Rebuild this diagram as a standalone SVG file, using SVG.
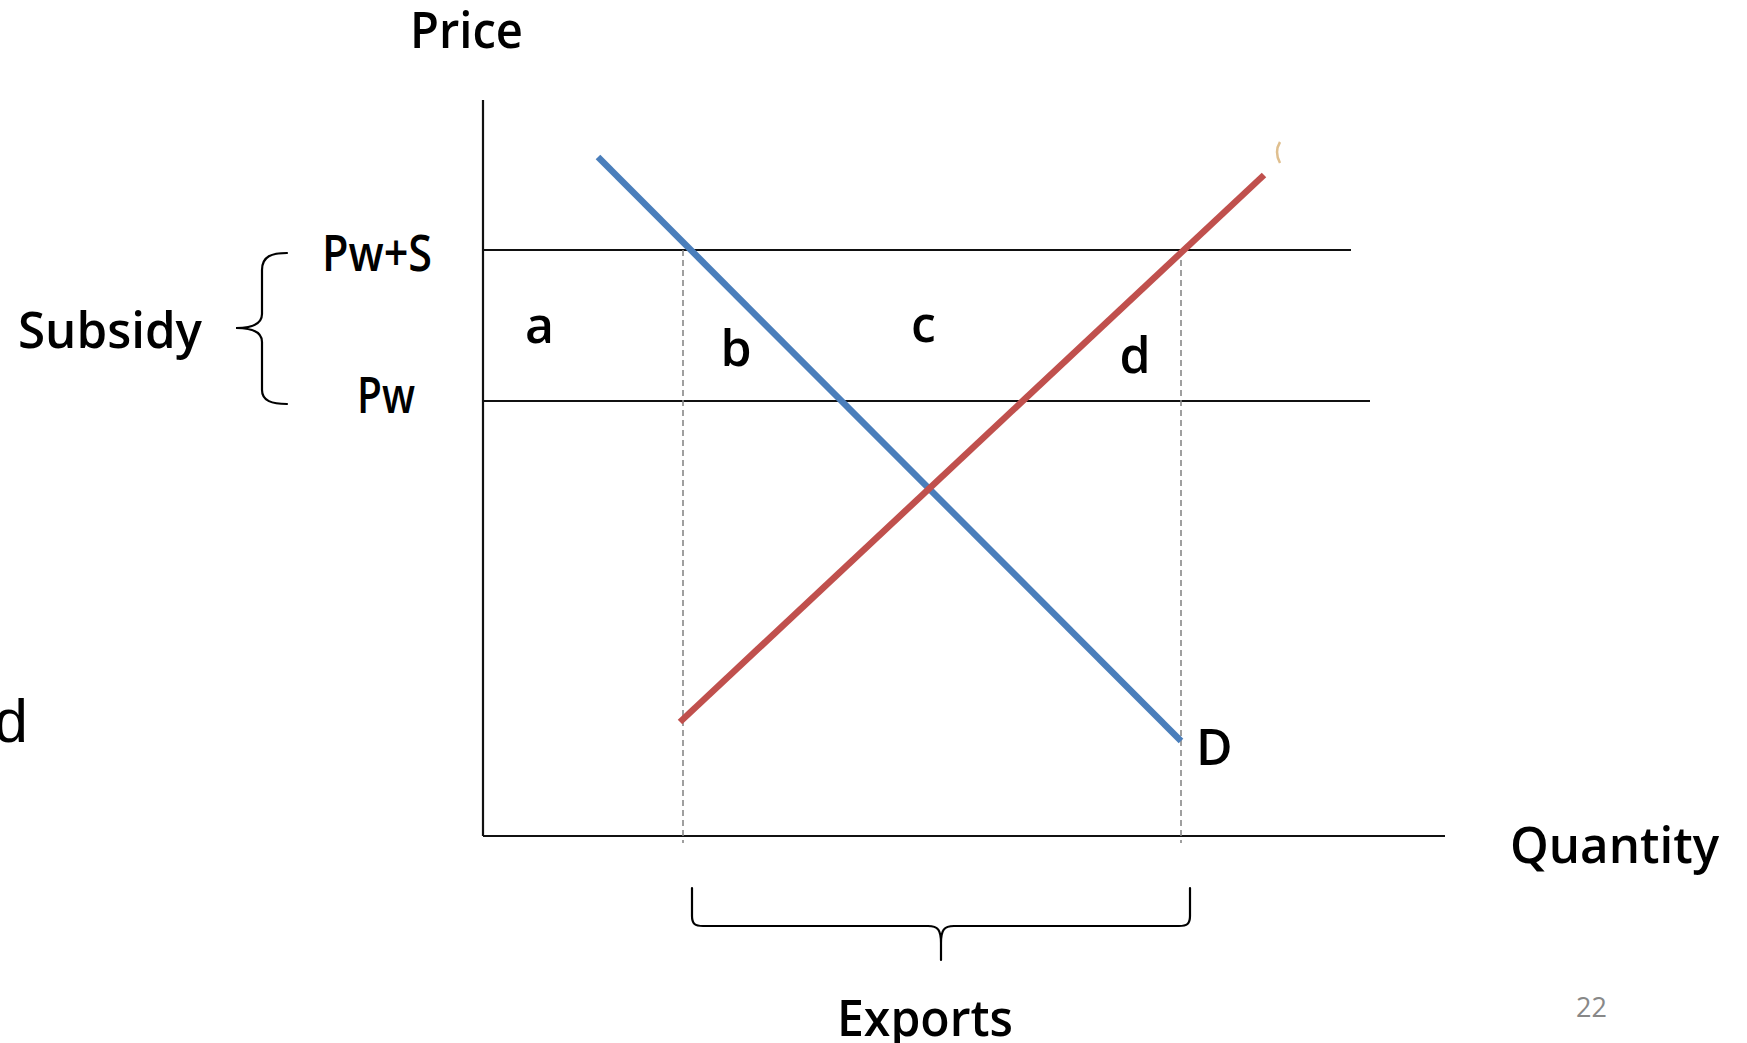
<svg xmlns="http://www.w3.org/2000/svg" width="1747" height="1043" viewBox="0 0 1747 1043">
  <style>
    .lbl { font-family: "Open Sans", "Liberation Sans", sans-serif; font-size: 50px; font-weight: 600; fill: #000; }
    .axis { stroke: #111; stroke-width: 2.2; fill: none; }
    .price { stroke: #111; stroke-width: 2; fill: none; }
    .dash { stroke: #888; stroke-width: 1.6; stroke-dasharray: 6 4; fill: none; }
    .brace { stroke: #000; stroke-width: 2.2; fill: none; stroke-linecap: round; }
    .demand { stroke: #4a7ebb; stroke-width: 6.5; fill: none; }
    .supply { stroke: #c0504d; stroke-width: 6.5; fill: none; }
  </style>
  <rect width="1747" height="1043" fill="#fff"/>

  <g id="connectors">
    <line id="y-axis" class="axis" x1="483" y1="100" x2="483" y2="836"/>
    <line id="x-axis" class="axis" x1="483" y1="836" x2="1445" y2="836"/>
    <line id="pws-line" class="price" x1="483" y1="250" x2="1351" y2="250"/>
    <line id="pw-line" class="price" x1="483" y1="401" x2="1370" y2="401"/>
    <line id="dash-left" class="dash" x1="683" y1="250" x2="683" y2="843"/>
    <line id="dash-right" class="dash" x1="1181" y1="250" x2="1181" y2="843"/>
    <line id="demand" class="demand" x1="598" y1="157" x2="1181" y2="741"/>
    <line id="supply" class="supply" x1="680" y1="722" x2="1264" y2="175"/>
    <path id="fragment" d="M1280,142 Q1274,152 1280,163" stroke="#dfbf8f" stroke-width="2.5" fill="none"/>
    <path id="subsidy-brace" class="brace" d="M287,253 C272,253 262,256 262,270 L262,314 C262,324 252,328 236,328 C252,328 262,332 262,342 L262,390 C262,401 272,404 287,404"/>
    <path id="exports-brace" class="brace" d="M692,888 L692,916 C692,924 695,926 703,926 L928,926 C938,926 941,930 941,943 L941,960 M941,943 C941,930 944,926 954,926 L1179,926 C1187,926 1190,924 1190,916 L1190,888"/>
  </g>

  <g id="node-price"><text class="lbl" x="410" y="48" textLength="113" lengthAdjust="spacingAndGlyphs">Price</text></g>
  <g id="node-quantity"><text class="lbl" x="1510" y="863" font-size="52" textLength="209" lengthAdjust="spacingAndGlyphs">Quantity</text></g>
  <g id="node-subsidy"><text class="lbl" x="18" y="348" textLength="184" lengthAdjust="spacingAndGlyphs">Subsidy</text></g>
  <g id="node-pws"><text class="lbl" x="322" y="271" textLength="110" lengthAdjust="spacingAndGlyphs">Pw+S</text></g>
  <g id="node-pw"><text class="lbl" x="357" y="413" textLength="58" lengthAdjust="spacingAndGlyphs">Pw</text></g>
  <g id="node-a"><text class="lbl" x="539.5" y="343" text-anchor="middle">a</text></g>
  <g id="node-b"><text class="lbl" x="736" y="366" text-anchor="middle">b</text></g>
  <g id="node-c"><text class="lbl" x="923.5" y="342" text-anchor="middle">c</text></g>
  <g id="node-d"><text class="lbl" x="1135" y="373" text-anchor="middle">d</text></g>
  <g id="node-D"><text class="lbl" x="1196" y="765">D</text></g>
  <g id="node-exports"><text class="lbl" x="837" y="1036" textLength="176" lengthAdjust="spacingAndGlyphs">Exports</text></g>
  <g id="node-page"><text x="1576" y="1017" font-family="Open Sans, Liberation Sans, sans-serif" font-size="27" fill="#888">22</text></g>
  <g id="node-edge-d"><text x="-6" y="742" font-family="Liberation Sans, Arial, sans-serif" font-size="61" fill="#000">d</text></g>
</svg>
